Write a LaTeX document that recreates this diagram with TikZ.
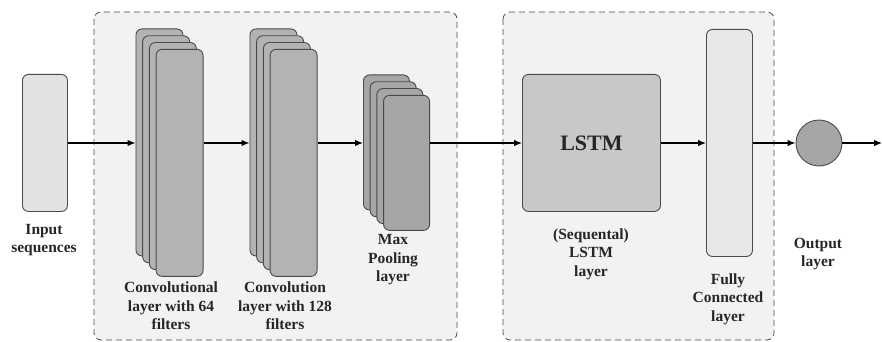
\documentclass[tikz,border=0pt]{standalone}
\usepackage{fontspec}
\setmainfont{Liberation Serif}
\usetikzlibrary{arrows.meta}
\definecolor{edgegray}{HTML}{4A4A4A}
\definecolor{panelfill}{HTML}{F2F2F2}
\definecolor{convfill}{HTML}{B3B3B3}
\definecolor{poolfill}{HTML}{A6A6A6}
\definecolor{lstmfill}{HTML}{C8C8C8}
\definecolor{lightfill}{HTML}{E2E2E2}
\definecolor{fcfill}{HTML}{E8E8E8}
\tikzset{
  panel/.style={draw=edgegray, fill=panelfill, rounded corners=7pt, dash pattern=on 6pt off 4pt, line width=0.8pt},
  block/.style={draw=edgegray, rounded corners=6pt, line width=0.9pt, inner sep=0pt, anchor=north west},
  convlayer/.style={block, fill=convfill, minimum width=47pt, minimum height=227pt},
  poollayer/.style={block, fill=poolfill, minimum width=46pt, minimum height=135pt},
  caption/.style={font=\fontsize{15.5}{18.5}\selectfont\bfseries, align=center, text=black!85},
  flow/.style={line width=1.3pt, -{Latex[length=8pt,width=6.5pt]}},
}
\begin{document}
\begin{tikzpicture}[x=1pt,y=-1pt]
\useasboundingbox (0,0) rectangle (882,342);

% dashed panels
\draw[panel] (94,12) rectangle (457,340);
\draw[panel] (503,12) rectangle (774,340);

% input
\node[block, fill=lightfill, minimum width=45pt, minimum height=137pt] (in) at (22,74) {};

% first convolution stack
\node[convlayer] (c1a) at (135.5,28.5) {};
\node[convlayer] (c1b) at (142.2,35.3) {};
\node[convlayer] (c1c) at (148.9,42.1) {};
\node[convlayer] (c1d) at (155.6,48.9) {};

% second convolution stack
\node[convlayer] (c2a) at (249.5,28.5) {};
\node[convlayer] (c2b) at (256.2,35.3) {};
\node[convlayer] (c2c) at (262.9,42.1) {};
\node[convlayer] (c2d) at (269.6,48.9) {};

% pooling stack
\node[poollayer] (p1a) at (363,74.5) {};
\node[poollayer] (p1b) at (369.7,81.3) {};
\node[poollayer] (p1c) at (376.4,88.1) {};
\node[poollayer] (p1d) at (383.1,94.9) {};

% LSTM block
\node[block, fill=lstmfill, minimum width=138pt, minimum height=137pt] (lstm) at (522,74) {};
\node[font=\fontsize{22}{26}\selectfont\bfseries, text=black!85] (lstmtxt) at (lstm.center) {LSTM};

% fully connected layer
\node[block, fill=fcfill, minimum width=46pt, minimum height=227pt] (fc) at (706,29) {};

% output neuron
\node[circle, draw=edgegray, fill=poolfill, line width=0.9pt, minimum size=46pt, inner sep=0pt] (out) at (819,143) {};
\coordinate (end) at (882,143);

% connectors
\coordinate (rowL) at (0,143);
\draw[flow] (in.east |- rowL) -- (c1a.west |- rowL);
\draw[flow] (c1d.east |- rowL) -- (c2a.west |- rowL);
\draw[flow] (c2d.east |- rowL) -- (p1a.west |- rowL);
\draw[flow] (p1d.east |- rowL) -- (lstm.west |- rowL);
\draw[flow] (lstm.east |- rowL) -- (fc.west |- rowL);
\draw[flow] (fc.east |- rowL) -- (out.west);
\draw[flow] (out.east) -- (end);

% captions
\node[caption] (lin) at (44,240) {Input\\sequences};
\node[caption] (lc1) at (171,306) {Convolutional\\layer with 64\\filters};
\node[caption] (lc2) at (285,306) {Convolution\\layer with 128\\filters};
\node[caption] (lp) at (393,260) {Max\\Pooling\\layer};
\node[caption] (llstm) at (591,254) {(Sequental)\\LSTM\\layer};
\node[caption] (lfc) at (728,299) {Fully\\Connected\\layer};
\node[caption] (lout) at (818,254) {Output\\layer};
\end{tikzpicture}
\end{document}
